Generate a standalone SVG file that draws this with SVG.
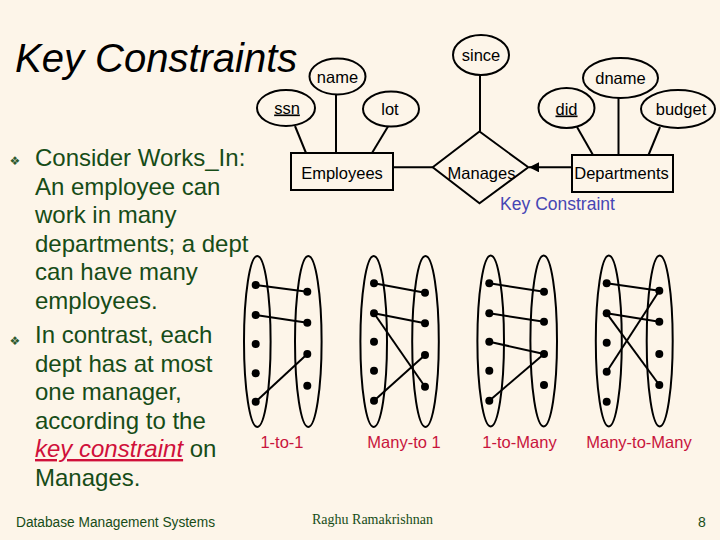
<svg xmlns="http://www.w3.org/2000/svg" width="720" height="540" viewBox="0 0 720 540">
<defs>
<style>
.bg{fill:#FDF5E9}
.er{fill:none;stroke:#000;stroke-width:2}
.ert{font-family:"Liberation Sans",Arial,sans-serif;font-size:16.5px;fill:#000;text-anchor:middle}
.body{font-family:"Liberation Sans",Arial,sans-serif;font-size:24px;fill:#174C17}
.bul{font-family:"DejaVu Sans",sans-serif;font-size:12px;fill:#2F5A2F;text-anchor:middle}
.set{fill:none;stroke:#000;stroke-width:2}
.dot{fill:#000}
.map{stroke:#000;stroke-width:2}
.lab{font-family:"Liberation Sans",Arial,sans-serif;font-size:16.5px;fill:#C8143C;text-anchor:middle}
.foot{font-family:"Liberation Sans",Arial,sans-serif;font-size:14px;fill:#174C17}
</style>
<marker id="ah" viewBox="0 0 10 10" refX="10" refY="5" markerWidth="5" markerHeight="5" orient="auto">
<path d="M0,0 L10,5 L0,10 z" fill="#000"/>
</marker>
</defs>
<rect class="bg" x="0" y="0" width="720" height="540"/>

<text x="15" y="72" font-family="'Liberation Sans',Arial,sans-serif" font-size="40" font-style="italic" fill="#000">Key Constraints</text>

<g id="bullets">
<text class="bul" x="15" y="165">❖</text>
<text class="body" x="35" y="166">Consider Works_In:</text>
<text class="body" x="35" y="194.5">An employee can</text>
<text class="body" x="35" y="223">work in many</text>
<text class="body" x="35" y="251.5">departments; a dept</text>
<text class="body" x="35" y="280">can have many</text>
<text class="body" x="35" y="308.5">employees.</text>
<text class="bul" x="15" y="345">❖</text>
<text class="body" x="35" y="343">In contrast, each</text>
<text class="body" x="35" y="371.5">dept has at most</text>
<text class="body" x="35" y="400">one manager,</text>
<text class="body" x="35" y="428.5">according to the</text>
<text class="body" x="35" y="457"><tspan fill="#D0103A" font-style="italic" text-decoration="underline">key constraint</tspan> on</text>
<text class="body" x="35" y="485.5">Manages.</text>
</g>

<g id="connectors">
<line class="er" x1="295" y1="126" x2="306" y2="153"/>
<line class="er" x1="336" y1="94.5" x2="336" y2="153"/>
<line class="er" x1="388" y1="126.5" x2="372" y2="153"/>
<line class="er" x1="480" y1="75" x2="480" y2="131.5"/>
<line class="er" x1="393" y1="167.3" x2="432.7" y2="167.3"/>
<line class="er" x1="572" y1="167.3" x2="529" y2="167.3" marker-end="url(#ah)"/>
<line class="er" x1="577" y1="127" x2="593" y2="155"/>
<line class="er" x1="618.5" y1="98" x2="618.5" y2="155"/>
<line class="er" x1="660" y1="127" x2="648.5" y2="155"/>
</g>

<g id="since"><ellipse class="er" cx="481" cy="55" rx="28" ry="20"/><text class="ert" x="481" y="61">since</text></g>
<g id="name"><ellipse class="er" cx="337.5" cy="76.5" rx="28" ry="18"/><text class="ert" x="337.5" y="82.5">name</text></g>
<g id="ssn"><ellipse class="er" cx="286" cy="108" rx="29" ry="18"/><text class="ert" x="287" y="113.5" text-decoration="underline">ssn</text></g>
<g id="lot"><ellipse class="er" cx="391" cy="109" rx="28" ry="17.5"/><text class="ert" x="390" y="114.5">lot</text></g>
<g id="Employees"><rect class="er" x="291" y="153" width="102" height="37"/><text class="ert" x="342" y="178.5">Employees</text></g>
<g id="Manages"><polygon class="er" points="432.7,167.3 479.5,131.5 528.3,167.3 479.5,203.3"/><text class="ert" x="481.5" y="178.5">Manages</text></g>
<g id="Departments"><rect class="er" x="572" y="155" width="101" height="37"/><text class="ert" x="621.5" y="179">Departments</text></g>
<g id="did"><ellipse class="er" cx="566.5" cy="108" rx="28" ry="20"/><text class="ert" x="566.5" y="114.5" text-decoration="underline">did</text></g>
<g id="dname"><ellipse class="er" cx="620.5" cy="78" rx="37.5" ry="20"/><text class="ert" x="620.5" y="83.5">dname</text></g>
<g id="budget"><ellipse class="er" cx="678" cy="109" rx="37" ry="19"/><text class="ert" x="681" y="114.5">budget</text></g>
<text x="557.5" y="209.5" font-family="'Liberation Sans',Arial,sans-serif" font-size="17.5" fill="#4646B4" text-anchor="middle">Key Constraint</text>

<g id="one-to-one">
<ellipse class="set" cx="257.3" cy="341.5" rx="13.3" ry="85.5"/>
<ellipse class="set" cx="308.3" cy="341.5" rx="13.3" ry="85.5"/>
<line class="map" x1="255.7" y1="285" x2="307.3" y2="291.7"/>
<line class="map" x1="255.7" y1="315" x2="307.3" y2="322.7"/>
<line class="map" x1="255.7" y1="401.7" x2="307.3" y2="354"/>
<circle class="dot" cx="255.7" cy="285" r="4"/><circle class="dot" cx="255.7" cy="315" r="4"/><circle class="dot" cx="255.7" cy="344" r="4"/><circle class="dot" cx="255.7" cy="373.3" r="4"/><circle class="dot" cx="255.7" cy="401.7" r="4"/>
<circle class="dot" cx="307.3" cy="291.7" r="4"/><circle class="dot" cx="307.3" cy="322.7" r="4"/><circle class="dot" cx="307.3" cy="354" r="4"/><circle class="dot" cx="307.3" cy="385.7" r="4"/>
<text class="lab" x="282" y="448">1-to-1</text>
</g>

<g id="many-to-one">
<ellipse class="set" cx="373.7" cy="341.5" rx="13.3" ry="85.5"/>
<ellipse class="set" cx="425.5" cy="341.5" rx="13.3" ry="85.5"/>
<line class="map" x1="374" y1="283.3" x2="425" y2="292.7"/>
<line class="map" x1="374" y1="313.3" x2="425" y2="323.3"/>
<line class="map" x1="374" y1="313.3" x2="425" y2="386.7"/>
<line class="map" x1="374" y1="400.7" x2="425" y2="355"/>
<circle class="dot" cx="374" cy="283.3" r="4"/><circle class="dot" cx="374" cy="313.3" r="4"/><circle class="dot" cx="374" cy="341.7" r="4"/><circle class="dot" cx="374" cy="370.7" r="4"/><circle class="dot" cx="374" cy="400.7" r="4"/>
<circle class="dot" cx="425" cy="292.7" r="4"/><circle class="dot" cx="425" cy="323.3" r="4"/><circle class="dot" cx="425" cy="355" r="4"/><circle class="dot" cx="425" cy="386.7" r="4"/>
<text class="lab" x="404" y="448">Many-to 1</text>
</g>

<g id="one-to-many">
<ellipse class="set" cx="490.7" cy="341" rx="13.3" ry="85.5"/>
<ellipse class="set" cx="543.7" cy="341" rx="13.3" ry="85.5"/>
<line class="map" x1="489.3" y1="283.3" x2="544" y2="291.7"/>
<line class="map" x1="489.3" y1="313.3" x2="544" y2="321.7"/>
<line class="map" x1="489.3" y1="341.7" x2="544" y2="354"/>
<line class="map" x1="489.3" y1="400.7" x2="544" y2="354"/>
<circle class="dot" cx="489.3" cy="283.3" r="4"/><circle class="dot" cx="489.3" cy="313.3" r="4"/><circle class="dot" cx="489.3" cy="341.7" r="4"/><circle class="dot" cx="489.3" cy="370.7" r="4"/><circle class="dot" cx="489.3" cy="400.7" r="4"/>
<circle class="dot" cx="544" cy="291.7" r="4"/><circle class="dot" cx="544" cy="321.7" r="4"/><circle class="dot" cx="544" cy="354" r="4"/><circle class="dot" cx="544" cy="385" r="4"/>
<text class="lab" x="519.5" y="448">1-to-Many</text>
</g>

<g id="many-to-many">
<ellipse class="set" cx="608.8" cy="341" rx="13" ry="85.5"/>
<ellipse class="set" cx="659.7" cy="341" rx="13" ry="85.5"/>
<line class="map" x1="606.7" y1="283.3" x2="659.3" y2="290.7"/>
<line class="map" x1="606.7" y1="313.3" x2="659.3" y2="321.7"/>
<line class="map" x1="606.7" y1="313.3" x2="659.3" y2="385"/>
<line class="map" x1="606.7" y1="371.7" x2="659.3" y2="290.7"/>
<circle class="dot" cx="606.7" cy="283.3" r="4"/><circle class="dot" cx="606.7" cy="313.3" r="4"/><circle class="dot" cx="606.7" cy="342.7" r="4"/><circle class="dot" cx="606.7" cy="371.7" r="4"/><circle class="dot" cx="606.7" cy="401.7" r="4"/>
<circle class="dot" cx="659.3" cy="290.7" r="4"/><circle class="dot" cx="659.3" cy="321.7" r="4"/><circle class="dot" cx="659.3" cy="354" r="4"/><circle class="dot" cx="659.3" cy="385" r="4"/>
<text class="lab" x="639" y="448">Many-to-Many</text>
</g>

<g id="footer">
<text class="foot" x="16" y="527" textLength="199" lengthAdjust="spacingAndGlyphs">Database Management Systems</text>
<text x="312" y="524" font-family="'Liberation Serif','Times New Roman',serif" font-size="14" fill="#174C17">Raghu Ramakrishnan</text>
<text class="foot" x="702" y="527" text-anchor="middle">8</text>
</g>
</svg>
